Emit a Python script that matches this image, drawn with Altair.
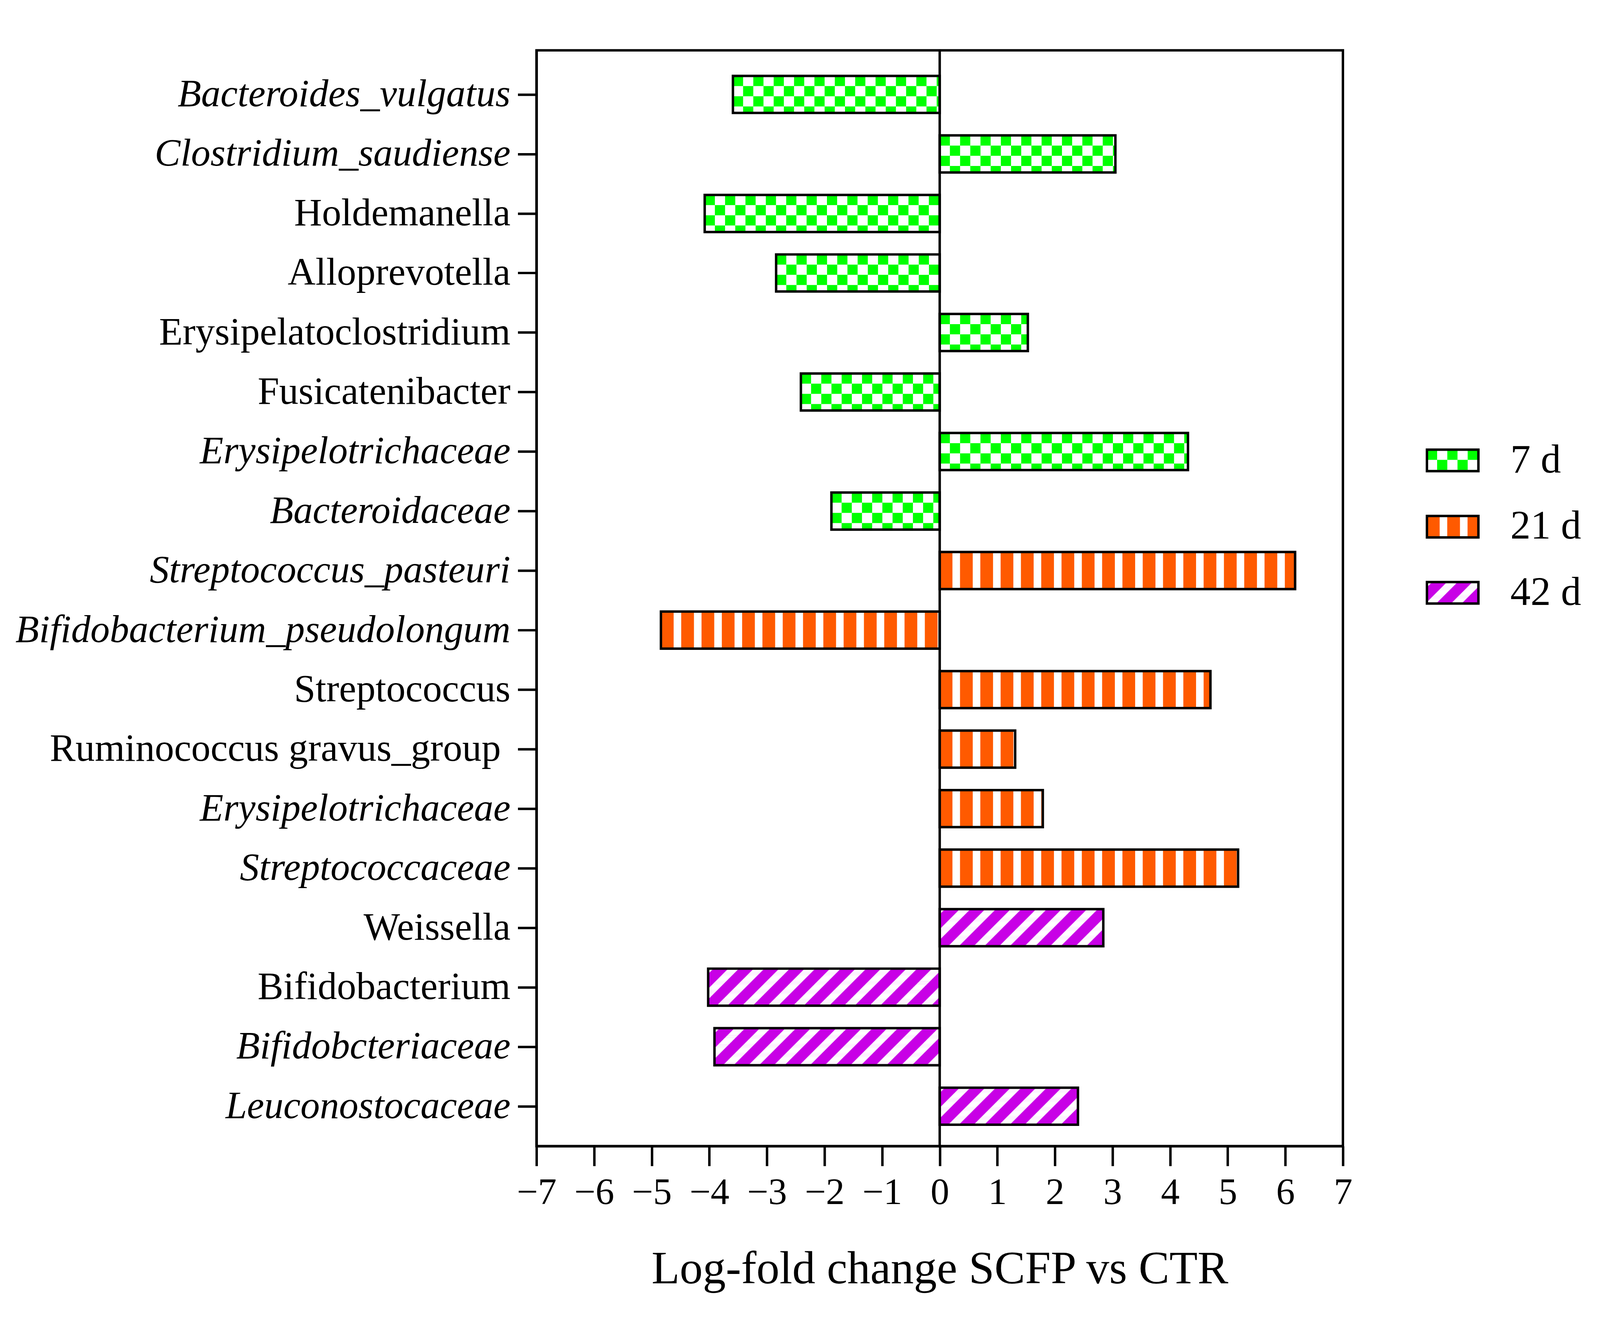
import json
import numpy as np
import pandas as pd
import altair as alt

# ---------------- data ----------------
names = ["Bacteroides_vulgatus", "Clostridium_saudiense", "Holdemanella", "Alloprevotella",
         "Erysipelatoclostridium", "Fusicatenibacter", "Erysipelotrichaceae", "Bacteroidaceae",
         "Streptococcus_pasteuri", "Bifidobacterium_pseudolongum", "Streptococcus",
         "Ruminococcus gravus_group\u00a0\u200b", "Erysipelotrichaceae", "Streptococcaceae",
         "Weissella", "Bifidobacterium", "Bifidobcteriaceae", "Leuconostocaceae"]
italic = [1, 1, 0, 0, 0, 0, 1, 1, 1, 1, 0, 0, 1, 1, 0, 0, 1, 1]
groups = ["7 d"] * 8 + ["21 d"] * 6 + ["42 d"] * 4
values = [-3.59, 3.05, -4.08, -2.84, 1.53, -2.41, 4.31, -1.88,
          6.17, -4.84, 4.70, 1.31, 1.79, 5.18,
          2.84, -4.02, -3.91, 2.40]
legend_labels = ["7 d", "21 d", "42 d"]
legend_colors = ["#00FF00", "#FF5A00", "#C800E6"]
pattern_kind = ["checker", "vstripe", "diag"]
x_ticks = list(range(-7, 8))
x_title = "Log-fold change SCFP vs CTR"

# ---------------- layout ----------------
W, H = 2153, 2926
XD = (-7.0, 7.0)
YD = (-0.7404, 17.670)
SX = W / (XD[1] - XD[0])          # px per x unit
SY = H / (YD[1] - YD[0])          # px per category step
HALF = 49.5 / SY                  # half bar height
LW = 6.5                          # line width
FONT = "Liberation Serif"

# legend layout (px from plot top-left)
LEG_X, LEG_W, LEG_H = 2377.3, 137.4, 57.4
LEG_CY = [1095, 1272, 1448.5]
LEG_TX = 2600

rects = []
for i, (g, v) in enumerate(zip(groups, values)):
    rects.append(dict(x=min(0.0, v), x2=max(0.0, v), y=i - HALF, y2=i + HALF, series=g))
for lab, cy in zip(legend_labels, LEG_CY):
    rects.append(dict(x=XD[0] + LEG_X / SX, x2=XD[0] + (LEG_X + LEG_W) / SX,
                      y=YD[0] + (cy - LEG_H / 2) / SY, y2=YD[0] + (cy + LEG_H / 2) / SY,
                      series=lab))
rect_df = pd.DataFrame(rects)

legend_text_df = pd.DataFrame(dict(
    x=[XD[0] + LEG_TX / SX] * 3,
    y=[YD[0] + cy / SY for cy in LEG_CY],
    label=legend_labels))

# ---------------- patterns (white parts) ----------------
CELL = 27.2                      # checker cell (px)
VP, VO, VW = 54.2, 34.0, 20.2    # vertical stripes period / colored / white (px)
DP, DA, DWID = 68.0, 54.0, 28.0  # diagonal period / phase / white (px)
STRIP = 2.0                      # scanline height for diagonal hatching (px)

cells = []
for r in rects:
    kind = pattern_kind[legend_labels.index(r["series"])]
    Lp, Rp, Tp, Bp = r["x"] * SX, r["x2"] * SX, r["y"] * SY, r["y2"] * SY
    wpx, hpx = Rp - Lp, Bp - Tp
    if kind == "checker":
        nx = int(np.ceil(wpx / CELL)); ny = int(np.ceil(hpx / CELL))
        for i in range(nx):
            for j in range(ny):
                if (i + j) % 2 == 1:
                    x0 = Lp + i * CELL; x1 = min(Rp, x0 + CELL)
                    y0 = Tp + j * CELL; y1 = min(Bp, y0 + CELL)
                    cells.append(dict(x=x0 / SX, x2=x1 / SX, y=y0 / SY, y2=y1 / SY))
    elif kind == "vstripe":
        k = 0
        while Lp + VO + k * VP < Rp:
            x0 = Lp + VO + k * VP; x1 = min(Rp, x0 + VW)
            cells.append(dict(x=x0 / SX, x2=x1 / SX, y=Tp / SY, y2=Bp / SY))
            k += 1
    else:
        nrow = int(np.ceil(hpx / STRIP))
        for j in range(nrow):
            y0 = j * STRIP; y1 = min(hpx, y0 + STRIP)
            ym = 0.5 * (y0 + y1)
            k0 = int(np.floor((ym - DA - DWID) / DP)) - 1
            k1 = int(np.ceil((wpx + ym - DA) / DP)) + 1
            for k in range(k0, k1 + 1):
                s = DA + k * DP
                lo = max(0.0, s - ym); hi = min(wpx, s + DWID - ym)
                if hi > lo:
                    cells.append(dict(x=(Lp + lo) / SX, x2=(Lp + hi) / SX,
                                      y=(Tp + y0 - 0.4) / SY if j > 0 else (Tp + y0) / SY,
                                      y2=(Tp + y1) / SY))

cell_df = pd.DataFrame(cells)

# ---------------- encodings ----------------
xs = alt.Scale(domain=list(XD), nice=False, zero=False)
ys = alt.Scale(domain=list(YD), nice=False, zero=False, reverse=True)

xaxis = alt.Axis(values=x_ticks, title=x_title, labelFlush=False, grid=False,
                 tickSize=53, tickWidth=LW, domainWidth=LW, labelPadding=22,
                 titlePadding=95, labelFontSize=100, titleFontSize=123,
                 titleFontWeight="normal", labelOverlap=False)
italic_idx = [i for i, f in enumerate(italic) if f]
yaxis = alt.Axis(values=list(range(len(names))),
                 labelExpr=json.dumps(names) + "[datum.value]",
                 labelFontStyle={"condition": {"test": "indexof(" + json.dumps(italic_idx) + ", datum.value) >= 0",
                                               "value": "italic"},
                                 "value": "normal"},
                 title=None, labelFlush=False, grid=False, tickSize=50, tickWidth=LW,
                 domainWidth=LW, labelPadding=20, labelFontSize=103, labelOverlap=False,
                 labelLimit=0)

X = alt.X("x:Q", scale=xs, axis=xaxis, stack=None)
Y = alt.Y("y:Q", scale=ys, axis=yaxis, stack=None)

bars = alt.Chart(rect_df).mark_rect(strokeWidth=0).encode(
    x=X, x2=alt.X2("x2:Q"), y=Y, y2=alt.Y2("y2:Q"),
    color=alt.Color("series:N", scale=alt.Scale(domain=legend_labels, range=legend_colors), legend=None))

white_rects = alt.Chart(cell_df).mark_rect(color="white", strokeWidth=0).encode(
    x=X, x2=alt.X2("x2:Q"), y=Y, y2=alt.Y2("y2:Q"))

outline = alt.Chart(rect_df).mark_rect(fillOpacity=0, stroke="black", strokeWidth=LW).encode(
    x=X, x2=alt.X2("x2:Q"), y=Y, y2=alt.Y2("y2:Q"))

zero_line = alt.Chart(pd.DataFrame({"x": [0.0]})).mark_rule(color="black", strokeWidth=LW).encode(x=X)

legend_text = alt.Chart(legend_text_df).mark_text(
    align="left", baseline="middle", font=FONT, fontSize=108, color="black").encode(
    x=X, y=Y, text="label:N")

chart = alt.layer(bars, white_rects, outline, zero_line, legend_text).properties(
    width=W, height=H,
    autosize=alt.AutoSizeParams(type="none"),
    padding={"left": 1424, "top": 53, "right": 678, "bottom": 431},
).configure_axis(
    labelFont=FONT, titleFont=FONT, labelColor="black", titleColor="black",
    tickColor="black", domainColor="black"
).configure_view(stroke="black", strokeWidth=LW)

chart.save("out.html", embed_options={"renderer": "svg", "actions": False})
